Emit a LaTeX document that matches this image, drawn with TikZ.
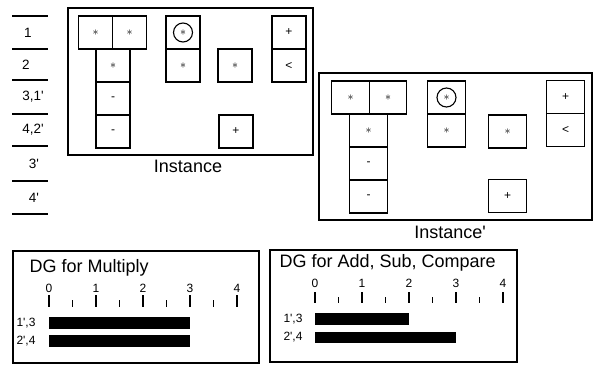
\documentclass[tikz,border=0pt]{standalone}
\usepackage{fontspec}
\setmainfont{Liberation Sans}
\usetikzlibrary{positioning}

\newcommand{\insfont}{\fontsize{18}{20}\selectfont}
\newcommand{\rowfnt}{\fontsize{13.5}{15}\selectfont}
\newcommand{\tickfnt}{\fontsize{12}{14}\selectfont}
\newcommand{\pr}{\textquotesingle}

\begin{document}
\begin{tikzpicture}[x=1pt,y=-1pt,
    frame/.style={draw,line width=1.3pt},
    cell/.style={draw,line width=1.3pt,minimum width=34pt,minimum height=33pt,
        inner sep=0pt,outer sep=0pt,font=\fontsize{12}{14}\selectfont},
    cellp/.style={cell,minimum width=37.5pt},
    ring/.style={circle,draw,line width=1.1pt,minimum size=19pt,inner sep=0pt},
    bar/.style={fill=black}]
    \useasboundingbox (0,0) rectangle (595,365);

    % time steps
    \foreach \y in {16,49,80,114,146,181,214}
        \draw[line width=1.3pt] (12,\y) -- (48,\y);
    \node[font=\rowfnt] (r1) at (28,32.5) {1};
    \node[font=\rowfnt] (r2) at (26,64.5) {2};
    \node[font=\rowfnt] (r3) at (33,97) {3,1\pr};
    \node[font=\rowfnt] (r4) at (33,130) {4,2\pr};
    \node[font=\rowfnt] (r5) at (34,163.5) {3\pr};
    \node[font=\rowfnt] (r6) at (34,197.5) {4\pr};

    % Instance
    \draw[frame] (68,8) rectangle (313,155);
    \node[cell] (a1) at (95.5,32.5) {$\ast$};
    \node[cell, right=0pt of a1] (a2) {$\ast$};
    \node[cell] (a3) at (113,65.5) {$\ast$};
    \node[cell, below=0pt of a3] (a4) {-};
    \node[cell, below=0pt of a4] (a5) {-};
    \node[cell] (b1) at (183,32.5) {$\ast$};
    \node[ring] (b0) at (b1) {};
    \node[cell, below=0pt of b1] (b2) {$\ast$};
    \node[cell] (c1) at (235,65.5) {$\ast$};
    \node[cell] (c2) at (236,131.5) {+};
    \node[cell] (d1) at (289,32.5) {+};
    \node[cell, below=0pt of d1] (d2) {<};
    \node[font=\insfont] (ins) at (188,166) {Instance};

    % Instance'
    \draw[frame] (319,73) rectangle (592,220);
    \node[cellp] (p1) at (350.5,97.5) {$\ast$};
    \node[cellp, right=0pt of p1] (p2) {$\ast$};
    \node[cellp] (p3) at (368.5,130.5) {$\ast$};
    \node[cellp, below=0pt of p3] (p4) {-};
    \node[cellp, below=0pt of p4] (p5) {-};
    \node[cellp] (q1) at (446.5,97.5) {$\ast$};
    \node[ring] (q0) at (q1) {};
    \node[cellp, below=0pt of q1] (q2) {$\ast$};
    \node[cellp] (s1) at (507.5,131.5) {$\ast$};
    \node[cellp] (s2) at (507.5,196) {+};
    \node[cellp] (t1) at (565.5,97) {+};
    \node[cellp, below=0pt of t1] (t2) {<};
    \node[font=\insfont] (insp) at (450,232) {Instance\pr};

    % DG for Multiply
    \draw[frame] (13,251) rectangle (259,363);
    \node[font=\insfont, anchor=west] (dgm) at (26,268) {DG for Multiply};
    \foreach \i in {0,...,4} {
        \node[font=\tickfnt] (mt\i) at (49+47*\i,288) {\i};
        \draw[line width=1.4pt] (49+47*\i,295) -- (49+47*\i,307);
    }
    \foreach \i in {0,...,3}
        \draw[line width=1.4pt] (72.5+47*\i,300) -- (72.5+47*\i,307);
    \fill[bar] (49,317) rectangle (190,329);
    \fill[bar] (49,335) rectangle (190,347);
    \node[font=\tickfnt] (ml1) at (26,323) {1\pr,3};
    \node[font=\tickfnt] (ml2) at (26,341) {2\pr,4};

    % DG for Add, Sub, Compare
    \draw[frame] (270,250) rectangle (517,362);
    \node[font=\insfont, anchor=west] (dga) at (276,263) {DG for Add, Sub, Compare};
    \foreach \i in {0,...,4} {
        \node[font=\tickfnt] (at\i) at (315+47*\i,283) {\i};
        \draw[line width=1.4pt] (315+47*\i,292) -- (315+47*\i,303);
    }
    \foreach \i in {0,...,3}
        \draw[line width=1.4pt] (338.5+47*\i,297) -- (338.5+47*\i,303);
    \fill[bar] (315,313) rectangle (409,325);
    \fill[bar] (315,332) rectangle (456,343);
    \node[font=\tickfnt] (al1) at (293,319) {1\pr,3};
    \node[font=\tickfnt] (al2) at (293,337) {2\pr,4};
\end{tikzpicture}
\end{document}
